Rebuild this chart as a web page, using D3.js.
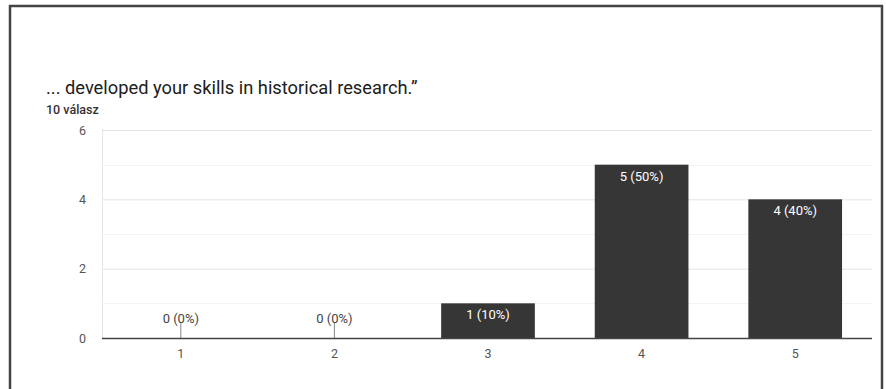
<!DOCTYPE html>
<html>
<head>
<meta charset="utf-8">
<script src="https://cdn.jsdelivr.net/npm/d3@7"></script>
<style>
  html, body { margin: 0; padding: 0; background: #fff; }
  svg { display: block; }
</style>
</head>
<body>
<svg id="chart" width="886" height="389"></svg>
<script>
// Survey answers on a 1–5 scale
const categories = ["1", "2", "3", "4", "5"];
const counts = [0, 0, 1, 5, 4];
const yTicks = [0, 2, 4, 6];
const minorTicks = [1, 3, 5];
const title = "... developed your skills in historical research.\u201D";
const subtitle = "10 válasz";

const total = d3.sum(counts);
const svg = d3.select("#chart");
const font = "Roboto, Arial, sans-serif";

// Card frame (left, top and right edges)
svg.append("path")
  .attr("d", "M10,389 V6 H882 V389")
  .attr("fill", "none")
  .attr("stroke", "#444")
  .attr("stroke-width", 2.5);

svg.append("text")
  .attr("x", 46).attr("y", 94)
  .attr("font-family", font)
  .attr("font-size", 18.3)
  .attr("fill", "#202020")
  .text(title);

svg.append("text")
  .attr("x", 46).attr("y", 114)
  .attr("font-family", font)
  .attr("font-size", 12.5)
  .attr("font-weight", 500)
  .attr("fill", "#333")
  .text(subtitle);

const plot = { left: 104, right: 872, top: 130, bottom: 338 };

const x = d3.scaleBand()
  .domain(categories)
  .range([plot.left, plot.right])
  .paddingInner(0.39)
  .paddingOuter(0.195);

const y = d3.scaleLinear()
  .domain([0, 6])
  .range([plot.bottom, plot.top]);

// Minor gridlines
svg.append("g")
  .selectAll("line")
  .data(minorTicks)
  .join("line")
  .attr("x1", plot.left - 2).attr("x2", plot.right)
  .attr("y1", d => Math.round(y(d)) + 0.5).attr("y2", d => Math.round(y(d)) + 0.5)
  .attr("stroke", "#f3f3f3");

// Major gridlines via the axis
const yAxis = svg.append("g")
  .attr("transform", `translate(${plot.left - 2},0)`)
  .call(d3.axisLeft(y).tickValues(yTicks).tickFormat(d3.format("d"))
    .tickSize(-(plot.right - plot.left + 2)).tickPadding(16));
yAxis.select(".domain").remove();
yAxis.selectAll(".tick line").attr("stroke", "#e3e3e3");
yAxis.selectAll(".tick text")
  .attr("font-family", font)
  .attr("font-size", 12.5)
  .attr("fill", "#555");

// Left vertical rule of the plot area
svg.append("line")
  .attr("x1", plot.left - 1.5).attr("x2", plot.left - 1.5)
  .attr("y1", plot.top - 1).attr("y2", plot.bottom)
  .attr("stroke", "#e6e6e6");

// Bars
svg.append("g")
  .selectAll("rect")
  .data(counts)
  .join("rect")
  .attr("x", (d, i) => x(categories[i]))
  .attr("y", d => y(d))
  .attr("width", x.bandwidth())
  .attr("height", d => y(0) - y(d))
  .attr("fill", "#363636");

// Small stems for empty categories
svg.append("g")
  .selectAll("line")
  .data(counts.map((d, i) => ({ d, i })).filter(o => o.d === 0))
  .join("line")
  .attr("x1", o => x(categories[o.i]) + x.bandwidth() / 2)
  .attr("x2", o => x(categories[o.i]) + x.bandwidth() / 2)
  .attr("y1", y(0) - 15).attr("y2", y(0))
  .attr("stroke", "#888");

// Value labels
const fmt = d => `${d} (${Math.round(d / total * 100)}%)`;
svg.append("g")
  .selectAll("text")
  .data(counts)
  .join("text")
  .attr("x", (d, i) => x(categories[i]) + x.bandwidth() / 2)
  .attr("y", d => d === 0 ? y(0) - 15 : y(d) + 16)
  .attr("text-anchor", "middle")
  .attr("font-family", font)
  .attr("font-size", 13)
  .attr("fill", d => d === 0 ? "#444" : "#fff")
  .text(fmt);

// X axis
const xAxis = svg.append("g")
  .attr("transform", `translate(0,${plot.bottom})`)
  .call(d3.axisBottom(x).tickSize(0).tickPadding(11));
xAxis.select(".domain")
  .attr("d", `M${plot.left - 2},0.5H${plot.right}`)
  .attr("stroke", "#444")
  .attr("stroke-width", 1.5);
xAxis.selectAll(".tick text")
  .attr("font-family", font)
  .attr("font-size", 12.5)
  .attr("fill", "#555");
</script>
</body>
</html>
